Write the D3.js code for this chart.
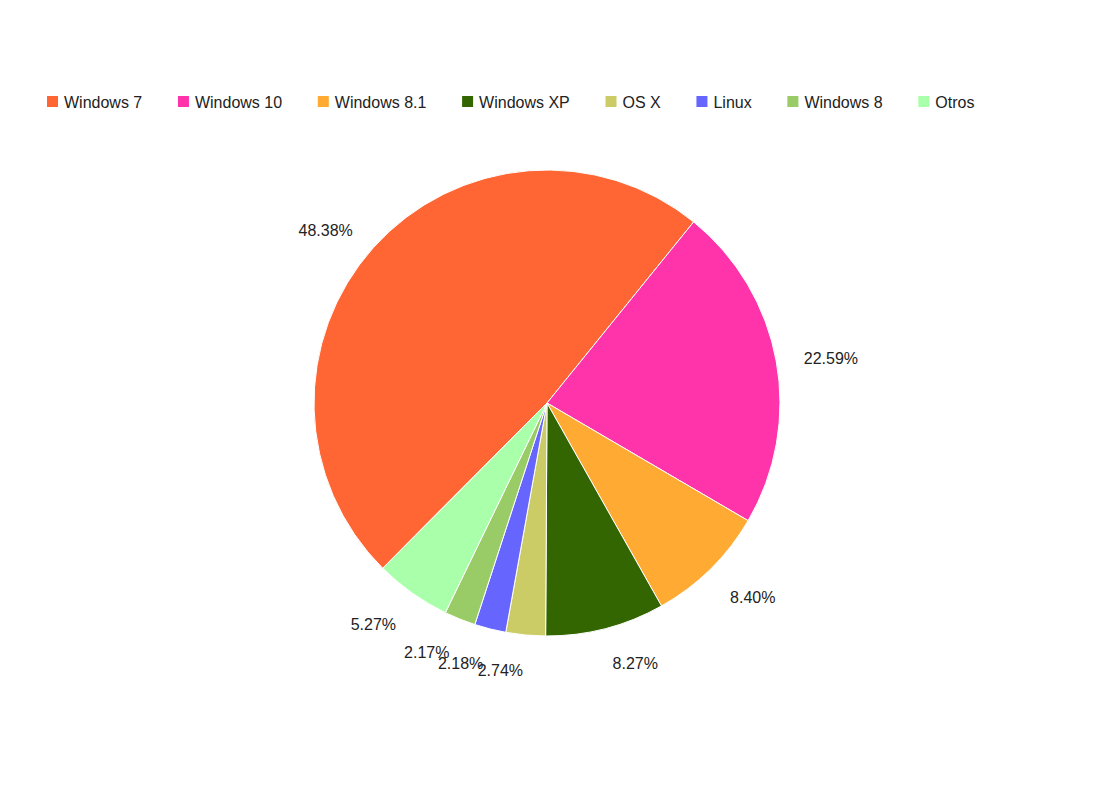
<!DOCTYPE html>
<html><head><meta charset="utf-8">
<script src="https://cdn.jsdelivr.net/npm/d3@7/dist/d3.min.js"></script>
<style>body{margin:0;background:#fff;} text{font-family:"Liberation Sans",Arial,sans-serif;}</style>
</head><body>
<svg id="chart" width="1095" height="805"></svg>
<script>
const categories = ["Windows 7","Windows 10","Windows 8.1","Windows XP","OS X","Linux","Windows 8","Otros"];
const values = [48.38,22.59,8.40,8.27,2.74,2.18,2.17,5.27];
const colors = ["#ff6633","#ff33aa","#ffaa33","#336600","#cccc66","#6666ff","#99cc66","#aaffaa"];

const svg = d3.select("#chart");
const cx = 547, cy = 403, R = 233, labelR = 261;
const total = d3.sum(values);
const startDeg = 39 - values[0] / total * 360;
const start = startDeg * Math.PI / 180;

const pie = d3.pie().sort(null).value(d => d).startAngle(start).endAngle(start + 2 * Math.PI);
const arcs = pie(values);
const arc = d3.arc().innerRadius(0).outerRadius(R);
const g = svg.append("g").attr("transform", `translate(${cx},${cy})`);
g.selectAll("path").data(arcs).join("path")
  .attr("d", arc).attr("fill", (d, i) => colors[i])
  .attr("stroke", "#fff").attr("stroke-width", 1);

g.selectAll("text.lbl").data(arcs).join("text").attr("class", "lbl")
  .each(function (d) {
    const a = (d.startAngle + d.endAngle) / 2;
    const sx = Math.sin(a), sy = -Math.cos(a);
    const px = sx * labelR, py = sy * labelR;
    const t = d3.select(this);
    t.attr("x", px).attr("text-anchor", sx >= 0 ? "start" : "end");
    const yc = sy > 0 ? py + 7.5 + (1 - sy) * 4 : py + 2;
    t.attr("y", yc).attr("dy", "0.35em");
  })
  .attr("font-size", 16).attr("fill", "#222")
  .text(d => d.data.toFixed(2) + "%");

// legend
const leg = svg.append("g");
let lx = 47;
categories.forEach((c, i) => {
  const it = leg.append("g").attr("transform", `translate(${lx},0)`);
  it.append("rect").attr("x", 0).attr("y", 96).attr("width", 11).attr("height", 11).attr("fill", colors[i]);
  const t = it.append("text").attr("x", 17).attr("y", 102).attr("dy", "0.35em")
    .attr("font-size", 16).attr("fill", "#222").text(c);
  lx += 17 + t.node().getComputedTextLength() + 35.7;
});
</script>
</body></html>
